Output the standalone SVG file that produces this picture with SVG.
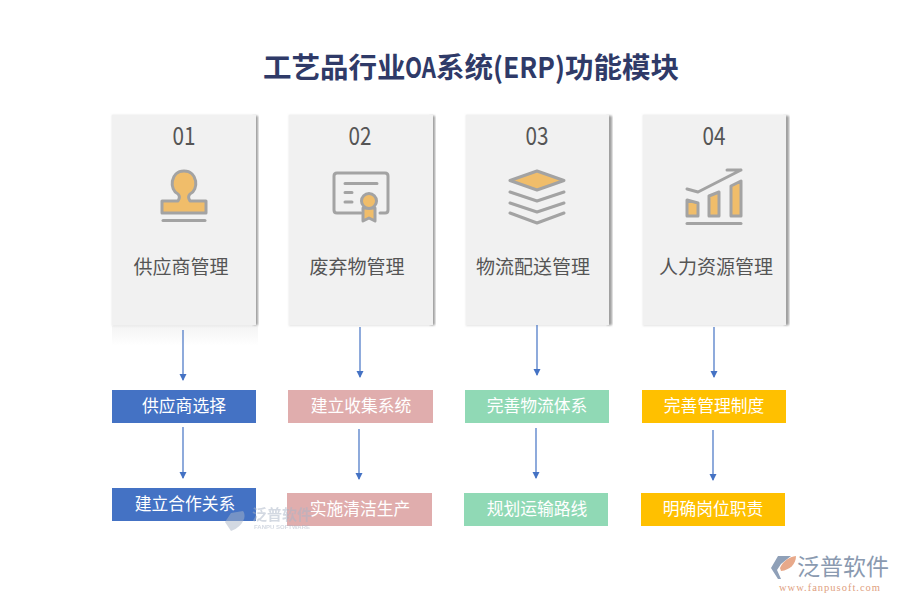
<svg xmlns="http://www.w3.org/2000/svg" width="900" height="600" viewBox="0 0 900 600">
<defs>
<marker id="a" markerUnits="userSpaceOnUse" markerWidth="8" markerHeight="8" refX="6" refY="3.5" orient="auto"><path d="M0 0L7 3.5L0 7Z" fill="#4472c4"/></marker>
<linearGradient id="fade" x1="0" y1="0" x2="0" y2="1"><stop offset="0" stop-color="#f4f4f4"/><stop offset="1" stop-color="#fff"/></linearGradient>
<filter id="blur" x="-10%" y="-10%" width="120%" height="120%"><feGaussianBlur stdDeviation="1"/></filter>
</defs>
<style>
text{font-family:"Noto Sans CJK SC","Liberation Sans",sans-serif;text-anchor:middle}
.t{font-size:28.500px;font-weight:700;fill:#2f3a68;text-anchor:start}
.n{font-size:25px;fill:#555}
.c{font-size:19px;fill:#555}
.b{font-size:16.800px;fill:#fff}
.card{fill:#f1f1f1}
.sh{fill:#a0a0a0;filter:url(#blur)}
.sb{fill:#e2e2e2;filter:url(#blur)}
.s{fill:none;stroke:#a3a3a3;stroke-width:3;stroke-linejoin:round;stroke-linecap:round}
.f{fill:#f0bd6a;stroke:#a3a3a3;stroke-width:3;stroke-linejoin:round}
.l{stroke:#4472c4;stroke-width:1.2;fill:none;marker-end:url(#a)}
</style>
<text class="t" y="78"><tspan x="263">工艺品行业</tspan><tspan x="405" textLength="31" lengthAdjust="spacingAndGlyphs">OA</tspan><tspan x="436">系统</tspan><tspan x="493" textLength="72" lengthAdjust="spacingAndGlyphs">(ERP)</tspan><tspan x="565">功能模块</tspan></text>

<g id="card1">
<rect x="112" y="326" width="146" height="20" fill="url(#fade)"/>
<rect x="112" y="115" width="145" height="211" class="sb"/>
<rect x="253" y="116" width="5" height="209" class="sh"/>
<rect x="112" y="115" width="144" height="210" class="card"/>
<text class="n" x="184" y="145" textLength="23" lengthAdjust="spacingAndGlyphs">01</text>
<path class="f" d="M178 194C169 190 170 171 184 171C198 171 199 190 190 194C188 196 188 198 190 201H206V213H162V201H178C180 198 180 196 178 194Z"/>
<path class="s" d="M163 220.500H205"/>
<text class="c" x="181" y="274">供应商管理</text>
</g>
<g id="card2">
<rect x="289" y="115" width="145" height="211" class="sb"/>
<rect x="430" y="116" width="5" height="209" class="sh"/>
<rect x="289" y="115" width="144" height="210" class="card"/>
<text class="n" x="360" y="145" textLength="23" lengthAdjust="spacingAndGlyphs">02</text>
<path class="s" d="M361 213H337Q334 213 334 210V176Q334 173 337 173H385Q388 173 388 176V210Q388 213 385 213H380M345 183.500H377M345 192.500H352M345 202H352"/>
<path class="f" d="M363 208V221L369 218L375 221V208Z"/>
<circle class="f" cx="369" cy="201" r="7.500"/>
<text class="c" x="357" y="274">废弃物管理</text>
</g>
<g id="card3">
<rect x="466" y="115" width="145" height="211" class="sb"/>
<rect x="607" y="116" width="5" height="209" class="sh"/>
<rect x="466" y="115" width="143" height="210" class="card"/>
<text class="n" x="537" y="145" textLength="23" lengthAdjust="spacingAndGlyphs">03</text>
<path class="f" d="M510 180.500L537 171L564 180.500L537 190Z"/>
<path class="s" d="M510 192L537 201L564 192M510 203L537 212L564 203M510 213L537 223L564 213"/>
<text class="c" x="533" y="274">物流配送管理</text>
</g>
<g id="card4">
<rect x="643" y="115" width="145" height="211" class="sb"/>
<rect x="784" y="116" width="5" height="209" class="sh"/>
<rect x="643" y="115" width="143" height="210" class="card"/>
<text class="n" x="714" y="145" textLength="23" lengthAdjust="spacingAndGlyphs">04</text>
<path class="s" d="M687 189L698 192L741 170M727 170H741"/>
<path class="f" d="M687 200L698 203V216H687ZM709 196L719 192V216H709ZM731 186L741 181V216H731Z"/>
<path class="s" d="M687 223.500H741"/>
<text class="c" x="716" y="274">人力资源管理</text>
</g>

<g id="connectors">
<path class="l" d="M183 330V380"/>
<path class="l" d="M360 327V377"/>
<path class="l" d="M537 325V375"/>
<path class="l" d="M714 327V377"/>
<path class="l" d="M183 427V478"/>
<path class="l" d="M359 429V479"/>
<path class="l" d="M536 428V478"/>
<path class="l" d="M713 430V480"/>
</g>

<g id="b1"><rect x="112" y="390" width="144" height="33" fill="#4472c4"/><text class="b" x="184" y="412">供应商选择</text></g>
<g id="b2"><rect x="288" y="390" width="145" height="33" fill="#e0adad"/><text class="b" x="361" y="412">建立收集系统</text></g>
<g id="b3"><rect x="465" y="390" width="144" height="33" fill="#90d9b5"/><text class="b" x="537" y="412">完善物流体系</text></g>
<g id="b4"><rect x="642" y="390" width="144" height="33" fill="#ffc000"/><text class="b" x="714" y="412">完善管理制度</text></g>
<g id="b5"><rect x="112" y="488" width="144" height="33" fill="#4472c4"/><text class="b" x="185" y="510">建立合作关系</text></g>
<g id="b6"><rect x="287" y="493" width="145" height="33" fill="#e0adad"/><text class="b" x="360" y="515">实施清洁生产</text></g>
<g id="b7"><rect x="464" y="493" width="144" height="33" fill="#90d9b5"/><text class="b" x="537" y="515">规划运输路线</text></g>
<g id="b8"><rect x="641" y="493" width="144" height="33" fill="#ffc000"/><text class="b" x="713" y="515">明确岗位职责</text></g>

<g id="watermark-center" opacity=".5">
<path d="M225 522L231 513L243 511C248 518 240 528 231 531Z" fill="#a9b4c6"/>
<text x="282" y="520" font-size="15" font-weight="700" style="fill:#a9b4c6">泛普软件</text>
<text x="282" y="529" font-size="6" font-weight="700" style="fill:#a9b4c6;font-family:'Liberation Sans',sans-serif">FANPU SOFTWARE</text>
</g>

<g id="logo">
<path d="M771 568L778 556H791L781 564L777 570L781 579H778Z" fill="#8fa0b8"/>
<path d="M780 568C783 561 789 557 796 556C796 564 790 570 781 571Z" fill="#e8a98a"/>
<text x="843" y="575" font-size="23" style="fill:#8a9ab0">泛普软件</text>
<text x="830" y="591" font-size="10.500" letter-spacing="1" style="fill:#e0a080;font-family:'Liberation Serif',serif">www.fanpusoft.com</text>
</g>
</svg>
